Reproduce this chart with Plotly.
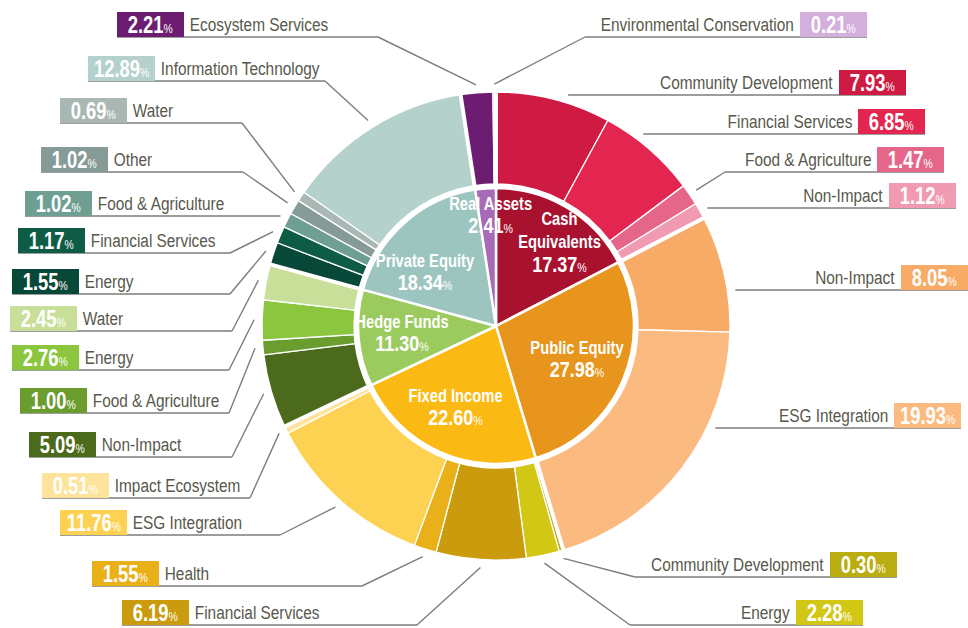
import math
import plotly.graph_objects as go

W, H = 968, 628

# ---------------- data ----------------
groups = ["Cash Equivalents", "Public Equity", "Fixed Income", "Hedge Funds", "Private Equity", "Real Assets"]
group_values = [17.37, 27.98, 22.60, 11.30, 18.34, 2.41]
group_text = [["Cash", "Equivalents"], ["Public Equity"], ["Fixed Income"], ["Hedge Funds"], ["Private Equity"], ["Real Assets"]]

sub_parents = ["Cash Equivalents"] * 4 + ["Public Equity"] * 2 + ["Fixed Income"] * 6 + ["Hedge Funds"] * 4 + ["Private Equity"] * 6 + ["Real Assets"] * 2
sub_labels = [
    "Community Development", "Financial Services", "Food & Agriculture", "Non-Impact",
    "Non-Impact", "ESG Integration",
    "Community Development", "Energy", "Financial Services", "Health", "ESG Integration", "Impact Ecosystem",
    "Non-Impact", "Food & Agriculture", "Energy", "Water",
    "Energy", "Financial Services", "Food & Agriculture", "Other", "Water", "Information Technology",
    "Ecosystem Services", "Environmental Conservation",
]
sub_values = [
    7.93, 6.85, 1.47, 1.12,
    8.05, 19.93,
    0.30, 2.28, 6.19, 1.55, 11.76, 0.51,
    5.09, 1.00, 2.76, 2.45,
    1.55, 1.17, 1.02, 1.02, 0.69, 12.89,
    2.21, 0.21,
]

# ---------------- styles ----------------
group_colors = ["#a8122f", "#e8951d", "#fbb914", "#9bcb5f", "#9dc5bf", "#a76ab6"]
sub_colors = [
    "#cf1a43", "#e3264f", "#e6668a", "#f19bb3",
    "#f7ab66", "#fbbb80",
    "#b9ad11", "#d3c716", "#c99b0d", "#eab01a", "#fdd152", "#fde39c",
    "#4b6a1c", "#6a9c2e", "#8cc63f", "#c7df98",
    "#084838", "#0f5c46", "#6e9f92", "#869b97", "#aab8b5", "#b4d1cb",
    "#6c1d72", "#d3afdc",
]

# label layout: side, box outer x (left edge for left side, right edge for right side), underline y, elbow x
label_layout = [
    ("R", 906, 95, None), ("R", 925, 134, None), ("R", 944, 172, 725), ("R", 956, 208, None),
    ("R", 968, 290, None), ("R", 961, 428, None),
    ("R", 897, 577, 635), ("R", 863, 625, 630), ("L", 122, 625, 417), ("L", 92, 586, 362),
    ("L", 60, 535, 280), ("L", 42, 498, 250),
    ("L", 29, 457, 232), ("L", 20, 413, 229), ("L", 12, 370, 229), ("L", 10, 331, 232),
    ("L", 12, 294, 230), ("L", 18, 253, 230), ("L", 25, 216, None), ("L", 41, 172, 243),
    ("L", 60, 123, 242), ("L", 88, 81, 325),
    ("L", 117, 37, 378), ("R", 867, 37, 585),
]
inner_nudge = [(12, 2), (-11, -5), (0, -9), (6, -1), (-4, 22), (2, -10)]

FONT = "Liberation Sans, Arial, sans-serif"
TEXT_C = "#58584c"
LINE_C = "#7d7d7d"

CX, CY = 496, 326
R_OUT, R_HOLE, R_IN, R_LEAD = 234, 142, 138, 242
BOX_W, BOX_H = 67, 25


def px(x):
    return x / W


def py(y):
    return 1 - y / H


def pt(frac, r):
    a = 2 * math.pi * frac
    return CX + r * math.sin(a), CY - r * math.cos(a)


def dom(r):
    return dict(x=[px(CX - r), px(CX + r)], y=[py(CY + r), py(CY - r)])


fig = go.Figure()
fig.add_trace(go.Pie(
    labels=[f"{p} – {l}" for p, l in zip(sub_parents, sub_labels)], values=sub_values,
    sort=False, direction="clockwise", rotation=0, hole=R_HOLE / R_OUT,
    marker=dict(colors=sub_colors, line=dict(color="white", width=1.3)),
    textinfo="none", domain=dom(R_OUT), hoverinfo="label+value", showlegend=False,
))
fig.add_trace(go.Pie(
    labels=groups, values=group_values, sort=False, direction="clockwise", rotation=0,
    marker=dict(colors=group_colors, line=dict(color="white", width=2.5)),
    textinfo="none", domain=dom(R_IN), hoverinfo="label+value", showlegend=False,
))

shapes = []
annotations = []

# white gaps between parent groups on outer ring
tot = sum(sub_values)
cum = 0.0
for i, v in enumerate(sub_values):
    if i == 0 or sub_parents[i] != sub_parents[i - 1]:
        x0, y0 = pt(cum / tot, R_HOLE - 3)
        x1, y1 = pt(cum / tot, R_OUT + 3)
        shapes.append(dict(type="line", xref="paper", yref="paper", x0=px(x0), y0=py(y0), x1=px(x1), y1=py(y1),
                           line=dict(color="white", width=4), layer="above"))
    cum += v

# outer labels with leader lines
cum = 0.0
lines, boxes = [], []
for i, v in enumerate(sub_values):
    mid = (cum + v / 2) / tot
    cum += v
    side, bx, yb, elbow = label_layout[i]
    sgn = -1 if side == "L" else 1
    far = bx
    if elbow is None:
        dy = yb - CY
        ex, ey = CX + sgn * math.sqrt(R_LEAD ** 2 - dy ** 2), yb
        pts = [(ex, ey), (far, yb)]
    else:
        ex, ey = pt(mid, R_LEAD)
        pts = [(ex, ey), (elbow, yb), (far, yb)]
    for (a, b), (c, d) in zip(pts[:-1], pts[1:]):
        lines.append(dict(type="line", xref="paper", yref="paper", x0=px(a), y0=py(b), x1=px(c), y1=py(d),
                          line=dict(color=LINE_C, width=1.4), layer="above"))
    if side == "L":
        bx0, bx1 = bx, bx + BOX_W
    else:
        bx0, bx1 = bx - BOX_W, bx
    boxes.append(dict(type="rect", xref="paper", yref="paper", x0=px(bx0), x1=px(bx1), y0=py(yb), y1=py(yb - BOX_H),
                      fillcolor=sub_colors[i], line=dict(width=0), layer="above"))
    annotations.append(dict(
        xref="paper", yref="paper", x=px((bx0 + bx1) / 2), y=py(yb - BOX_H / 2), showarrow=False,
        xanchor="center", yanchor="middle", name="sx0.80",
        text=f"<b>{v:.2f}</b><span style='font-size:13px'>%</span>",
        font=dict(family=FONT, size=23, color="white"),
    ))
    if side == "L":
        annotations.append(dict(xref="paper", yref="paper", x=px(bx1 + 4), y=py(yb - BOX_H / 2), showarrow=False,
                                xanchor="left", yanchor="middle", text=sub_labels[i], name="sx0.81",
                                font=dict(family=FONT, size=19, color=TEXT_C)))
    else:
        annotations.append(dict(xref="paper", yref="paper", x=px(bx0 - 4), y=py(yb - BOX_H / 2), showarrow=False,
                                xanchor="right", yanchor="middle", text=sub_labels[i], name="sx0.81",
                                font=dict(family=FONT, size=19, color=TEXT_C)))

shapes = shapes + lines + boxes

# inner labels
gtot = sum(group_values)
cum = 0.0
for i, v in enumerate(group_values):
    mid = (cum + v / 2) / gtot
    cum += v
    x, y = pt(mid, 100)
    x += inner_nudge[i][0]
    y += inner_nudge[i][1]
    txt = ("<br>".join(f"<b>{s}</b>" for s in group_text[i])
           + f"<br><span style='font-size:22px'><b>{v:.2f}</b></span><span style='font-size:13px'>%</span>")
    annotations.append(dict(xref="paper", yref="paper", x=px(x), y=py(y), showarrow=False,
                            xanchor="center", yanchor="middle", text=txt, name="sx0.82",
                            font=dict(family=FONT, size=18, color="white")))

fig.update_layout(
    width=W, height=H, margin=dict(l=0, r=0, t=0, b=0),
    paper_bgcolor="white", plot_bgcolor="white", showlegend=False,
    shapes=shapes, annotations=annotations,
)

post = """
document.body.style.margin = '0';
var gd = document.getElementById('{plot_id}');
var anns = (gd.layout && gd.layout.annotations) || [];
gd.querySelectorAll('g.annotation').forEach(function(g){
  var i = parseInt(g.getAttribute('data-index'));
  var a = anns[i];
  if (!a || !a.name) return;
  var s = parseFloat(a.name.slice(2));
  var t = g.querySelector('g.annotation-text-g');
  if (!t) return;
  var o = a.xanchor === 'left' ? 'left' : (a.xanchor === 'right' ? 'right' : 'center');
  t.style.transformBox = 'fill-box';
  t.style.transformOrigin = o + ' center';
  t.style.transform = 'scaleX(' + s + ')';
});
"""
fig.write_html("out.html", post_script=post, config={"displayModeBar": False})
